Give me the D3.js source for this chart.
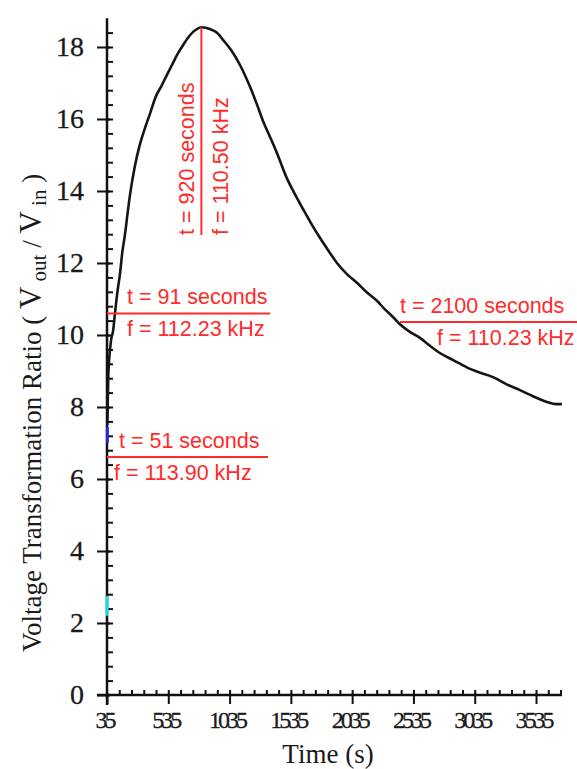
<!DOCTYPE html>
<html>
<head>
<meta charset="utf-8">
<script src="https://cdn.jsdelivr.net/npm/d3@7"></script>
<style>
  body { margin: 0; background: #fff; }
  svg { display: block; }
  .tick text { font-family: "Liberation Serif", "Times New Roman", serif; fill: #1a1a1a; stroke: #1a1a1a; stroke-width: 0.3px; }
  .axis path, .axis line { stroke: #111; }
  .note { font-family: "Liberation Sans", Arial, sans-serif; font-size: 21.5px; fill: #ff2a2a; }
</style>
</head>
<body>
<div id="chart"></div>
<script>
// measured curve (time axis units, ratio)
const timeS = [38, 42, 46, 52, 60, 70, 84, 100, 120, 141, 160, 182, 200, 223, 263, 304, 340, 386, 430, 484,
  520, 565, 610, 655, 710, 769, 805, 875, 930, 981, 1050, 1120, 1201, 1259, 1307, 1365, 1422, 1503, 1570, 1634,
  1700, 1772, 1840, 1911, 1990, 2074, 2150, 2237, 2300, 2368, 2425, 2500, 2588, 2670, 2751, 2860, 2971, 3080,
  3184, 3300, 3404, 3510, 3624, 3700, 3746];
const ratio = [7.5, 8.3, 8.9, 9.3, 9.6, 9.9, 10.1, 10.6, 11.2, 11.7, 12.3, 12.8, 13.3, 13.9, 14.7, 15.3, 15.7, 16.15, 16.6, 16.95,
  17.2, 17.5, 17.8, 18.05, 18.32, 18.5, 18.55, 18.5, 18.4, 18.2, 17.9, 17.5, 16.9, 16.4, 15.95, 15.5, 15.05, 14.35, 13.9, 13.5,
  13.1, 12.7, 12.35, 12.0, 11.7, 11.45, 11.2, 10.95, 10.72, 10.5, 10.3, 10.1, 9.92, 9.7, 9.5, 9.3, 9.1, 8.95,
  8.83, 8.62, 8.47, 8.3, 8.14, 8.08, 8.08];

// short coloured start segments
const cyanRatio = [2.2, 2.75];
const blueRatio = [7.0, 7.45];

const xTicks = [35, 535, 1035, 1535, 2035, 2535, 3035, 3535];
const yTicks = [0, 2, 4, 6, 8, 10, 12, 14, 16, 18];

// horizontal markers: level, start/end time, upper and lower label
const markLevel = [10.6, 6.61, 10.36];
const markFrom = [35, 35, 2425];
const markTo = [1365, 1348, 3900];
const markTop = ["t = 91 seconds", "t = 51 seconds", "t = 2100 seconds"];
const markBottom = ["f = 112.23 kHz", "f = 113.90 kHz", "f = 110.23 kHz"];
const markTopDx = [20, 12, 0];
const markBottomDx = [20, 7, 37];

// vertical peak marker
const peakTime = 805;
const peakTop = 18.55, peakBottom = 12.78;
const peakLabels = ["t = 920 seconds", "f = 110.50 kHz"];

const width = 577, height = 769;
const xScale = d3.scaleLinear().domain([35, 3747]).range([107, 562]);
const yScale = d3.scaleLinear().domain([0, 18.8]).range([695, 18.2]);

const svg = d3.select("#chart").append("svg")
  .attr("width", width)
  .attr("height", height);

// minor ticks
svg.append("g")
  .attr("class", "axis")
  .attr("transform", `translate(0,${yScale(0)})`)
  .call(d3.axisBottom(xScale).tickValues(d3.range(135, 3747, 100)).tickSize(-5).tickFormat(""))
  .call(g => g.select(".domain").remove())
  .selectAll("line").attr("stroke-width", 2);

svg.append("g")
  .attr("class", "axis")
  .attr("transform", `translate(${xScale(35)},0)`)
  .call(d3.axisLeft(yScale).tickValues(d3.range(0.4, 18.8, 0.4)).tickSize(-6).tickFormat(""))
  .call(g => g.select(".domain").remove())
  .selectAll("line").attr("stroke-width", 2);

// major axes
const xAxis = svg.append("g")
  .attr("class", "axis x-axis")
  .attr("transform", `translate(0,${yScale(0)})`)
  .call(d3.axisBottom(xScale).tickValues(xTicks).tickFormat(d3.format("d")).tickSizeOuter(0).tickSize(9).tickPadding(7));
xAxis.select(".domain").attr("stroke-width", 2.5).attr("d", `M${xScale(35) - 10},0H${xScale(3747)}`);
xAxis.selectAll(".tick line").attr("stroke-width", 2).attr("y1", -2);
xAxis.selectAll(".tick text").style("font-size", "24px").attr("letter-spacing", "-3px").attr("dx", -3);

const yAxis = svg.append("g")
  .attr("class", "axis y-axis")
  .attr("transform", `translate(${xScale(35)},0)`)
  .call(d3.axisLeft(yScale).tickValues(yTicks).tickSizeOuter(0).tickSize(10).tickPadding(13));
yAxis.select(".domain").attr("stroke-width", 2.5).attr("d", `M0,${yScale(0) + 10}V${yScale(18.8)}`);
yAxis.selectAll(".tick line").attr("stroke-width", 2).attr("x1", 3);
yAxis.selectAll(".tick text").style("font-size", "28px");

// axis titles
svg.append("text")
  .attr("x", 328)
  .attr("y", 763)
  .attr("text-anchor", "middle")
  .style("font-family", "'Liberation Serif', 'Times New Roman', serif")
  .style("font-size", "27px")
  .attr("fill", "#1a1a1a")
  .text("Time (s)");

const yTitle = svg.append("text")
  .attr("transform", "translate(41,652) rotate(-90)")
  .style("font-family", "'Liberation Serif', 'Times New Roman', serif")
  .style("font-size", "27px")
  .attr("fill", "#1a1a1a");
yTitle.append("tspan").text("Voltage Transformation Ratio ( ");
yTitle.append("tspan").style("font-size", "31px").text("V");
yTitle.append("tspan").attr("dy", 5).style("font-size", "21px").text(" out");
yTitle.append("tspan").attr("dy", -5).text(" / ");
yTitle.append("tspan").style("font-size", "31px").text("V");
yTitle.append("tspan").attr("dy", 5).style("font-size", "21px").text(" in");
yTitle.append("tspan").attr("dy", -5).text(" )");

// curve
const points = timeS.map((t, i) => [t, ratio[i]]);
const line = d3.line().x(d => xScale(d[0])).y(d => yScale(d[1]));

svg.append("path")
  .datum(points)
  .attr("fill", "none")
  .attr("stroke", "#151515")
  .attr("stroke-width", 2.6)
  .attr("stroke-linejoin", "round")
  .attr("d", line.curve(d3.curveMonotoneX));

line.curve(d3.curveLinear);

svg.append("path")
  .datum(cyanRatio.map(v => [35, v]))
  .attr("stroke", "#22d8e8")
  .attr("stroke-width", 3)
  .attr("d", line);

svg.append("path")
  .datum(blueRatio.map(v => [38, v]))
  .attr("stroke", "#2a2ae0")
  .attr("stroke-width", 3)
  .attr("d", line);

// horizontal markers
const marks = svg.append("g");
markLevel.forEach((v, i) => {
  const x0 = xScale(markFrom[i]);
  const y0 = yScale(v);
  marks.append("line")
    .attr("x1", x0).attr("x2", xScale(markTo[i]))
    .attr("y1", y0).attr("y2", y0)
    .attr("stroke", "#ff2a2a")
    .attr("stroke-width", 2);
  marks.append("text")
    .attr("class", "note")
    .attr("x", x0 + markTopDx[i])
    .attr("y", y0 - 9)
    .text(markTop[i]);
  marks.append("text")
    .attr("class", "note")
    .attr("x", x0 + markBottomDx[i])
    .attr("y", y0 + 23)
    .text(markBottom[i]);
});

// peak marker
const px = xScale(peakTime);
svg.append("line")
  .attr("x1", px).attr("x2", px)
  .attr("y1", yScale(peakTop)).attr("y2", yScale(peakBottom))
  .attr("stroke", "#ff2a2a")
  .attr("stroke-width", 2);

peakLabels.forEach((s, i) => {
  svg.append("text")
    .attr("class", "note")
    .attr("transform", `translate(${px + (i === 0 ? -7 : 27)},${yScale(peakBottom)}) rotate(-90)`)
    .text(s);
});
</script>
</body>
</html>
